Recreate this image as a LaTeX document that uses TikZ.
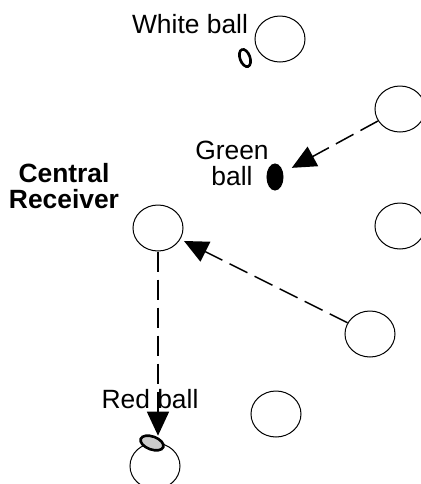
\documentclass[tikz,border=0pt]{standalone}
\usepackage{fontspec}
\setmainfont{Liberation Sans}
\usetikzlibrary{arrows.meta,shapes.geometric}
\tikzset{
    >={Triangle[length=12pt,width=11pt]},
    player/.style={ellipse,draw=black,line width=0.5pt,minimum width=25pt,minimum height=23pt,inner sep=0pt},
    ball/.style={ellipse,draw=black,line width=1.3pt,inner sep=0pt},
    pass/.style={->,line width=0.75pt,dash pattern=on 10pt off 4pt},
    lbl/.style={font=\fontsize{13.2}{14}\selectfont,align=center,inner sep=0pt}
}

\begin{document}
\begin{tikzpicture}[x=0.5pt,y=-0.5pt]
  \useasboundingbox (0,0) rectangle (420,484);

  \node[player] (pa) at (280, 39)  {};
  \node[player] (pb) at (400, 109) {};
  \node[player] (pc) at (400, 226) {};
  \node[player] (recv) at (158, 228) {};
  \node[player] (pd) at (370, 334) {};
  \node[player] (pe) at (276, 414) {};
  \node[player] (pf) at (155, 466) {};

  \node[ball,minimum width=5pt,minimum height=9pt,rotate=20] (white) at (245, 58) {};
  \node[ball,fill=black,line width=0.5pt,minimum width=8pt,minimum height=13pt] (green) at (275, 177) {};
  \node[ball,fill=black!20,minimum width=12pt,minimum height=6.5pt,rotate=-20] (red) at (152, 443) {};

  \draw[pass,shorten >=5pt] (pb) -- (green);
  \draw[pass,shorten >=2pt] (pd) -- (recv);
  \draw[pass] (recv.south) -- (recv.south |- red.north);

  \node[lbl] (lwhite) at (190, 24) {White ball};
  \node[lbl] (lgreen) at (232, 163) {Green\\[-1pt]ball};
  \node[lbl,font=\fontsize{13.2}{14}\selectfont\bfseries] (lrecv) at (64, 186) {Central\\[-1pt]Receiver};
  \node[lbl] (lred) at (150, 399) {Red ball};
\end{tikzpicture}
\end{document}
